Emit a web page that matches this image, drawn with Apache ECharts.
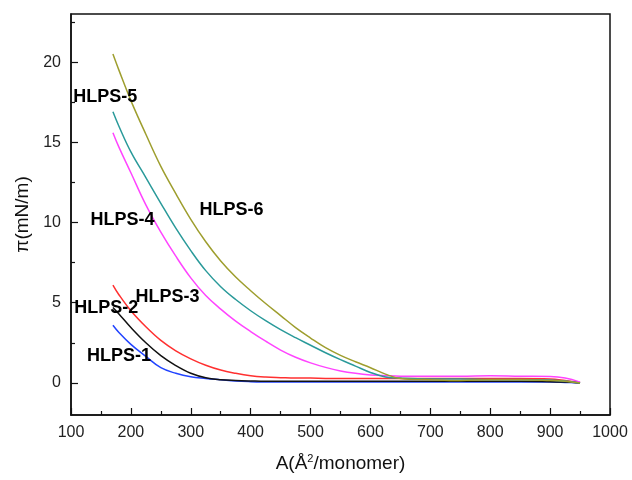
<!DOCTYPE html>
<html>
<head>
<meta charset="utf-8">
<script src="https://cdn.jsdelivr.net/npm/echarts@6/dist/echarts.min.js"></script>
<style>
html,body{margin:0;padding:0;background:#fff;}
#chart{width:632px;height:480px;}
</style>
</head>
<body>
<div id="chart"></div>
<script>
// Area per monomer (Å²)
const areaA = [170,180,200,225,250,275,300,325,350,375,400,425,450,475,500,525,550,575,600,625,650,700,750,800,850,900,925,950];
// Surface pressure (mN/m)
const hlps1 = [3.6,3.15,2.4,1.65,0.95,0.6,0.38,0.28,0.2,0.12,0.08,0.06,0.05,0.05,0.05,0.05,0.05,0.05,0.05,0.05,0.05,0.05,0.05,0.05,0.05,0.05,0.03,0.0];
const hlps2 = [4.7,4.3,3.45,2.5,1.7,1.08,0.6,0.32,0.2,0.15,0.12,0.1,0.1,0.1,0.1,0.1,0.1,0.1,0.1,0.1,0.1,0.1,0.1,0.1,0.1,0.08,0.05,0.0];
const hlps3 = [6.1,5.5,4.5,3.5,2.65,2.0,1.5,1.1,0.8,0.6,0.45,0.37,0.33,0.3,0.3,0.28,0.28,0.28,0.28,0.28,0.28,0.28,0.28,0.28,0.28,0.25,0.15,0.02];
const hlps4 = [15.6,14.7,13.1,11.1,9.4,7.9,6.55,5.45,4.6,3.85,3.2,2.6,2.05,1.6,1.25,0.97,0.75,0.6,0.5,0.45,0.42,0.42,0.42,0.45,0.42,0.4,0.3,0.05];
const hlps5 = [16.9,16.0,14.4,12.8,11.2,9.65,8.25,7.0,6.0,5.2,4.5,3.88,3.32,2.82,2.35,1.88,1.45,1.05,0.65,0.37,0.3,0.25,0.25,0.22,0.22,0.18,0.12,0.0];
const hlps6 = [20.5,19.5,17.6,15.5,13.5,11.8,10.2,8.8,7.6,6.6,5.75,4.95,4.2,3.45,2.8,2.2,1.72,1.32,0.95,0.55,0.28,0.2,0.15,0.2,0.2,0.15,0.1,0.0];
const seriesNames = ['HLPS-1','HLPS-2','HLPS-3','HLPS-4','HLPS-5','HLPS-6'];
const seriesColors = ['#2244ff','#111111','#ff3030','#ff44ff','#2a9a9a','#9e9e2e'];
// Annotation anchors (data coordinates)
const labelA  = [180, 159, 261, 186, 157, 368];
const labelPi = [1.67, 4.66, 5.35, 10.15, 17.8, 10.77];
// Axis ticks
const yMajor = [0,5,10,15,20];
const yMinor = [2.5,7.5,12.5,17.5,22.5];

const allY = [hlps1,hlps2,hlps3,hlps4,hlps5,hlps6];
const series = allY.map((ys,i)=>({
  name: seriesNames[i],
  type: 'line',
  showSymbol: false,
  smooth: 0.4,
  lineStyle: {color: seriesColors[i], width: 1.5},
  itemStyle: {color: seriesColors[i]},
  data: areaA.map((a,j)=>[a, ys[j]]),
  z: 2
}));
series.push({
  type: 'scatter',
  symbolSize: 0.1,
  itemStyle: {color: '#000', opacity: 1},
  data: labelA.map((a,i)=>({value:[a,labelPi[i]], name: seriesNames[i]})),
  label: {
    show: true, position: 'inside', formatter: p => p.name,
    color: '#000', opacity: 1, textBorderWidth: 0, fontFamily: 'Liberation Sans, Arial', fontWeight: 'bold', fontSize: 18
  },
  labelLayout: {hideOverlap: false},
  z: 5,
  silent: true
});

const chart = echarts.init(document.getElementById('chart'));
chart.setOption({
  animation: false,
  backgroundColor: '#fff',
  grid: {left: 71, right: 22, top: 14, bottom: 65, show: true, borderColor: '#111', borderWidth: 1.5, backgroundColor: 'transparent'},
  xAxis: {
    type: 'value', min: 100, max: 1000, interval: 100,
    name: '{a|A(Å}{s|2}{a|/monomer)}', nameLocation: 'middle', nameGap: 38,
    nameTextStyle: {rich: {
      a: {fontFamily: 'Liberation Sans, Arial', fontSize: 19, color: '#111'},
      s: {fontFamily: 'Liberation Sans, Arial', fontSize: 11, color: '#111', verticalAlign: 'top', padding: [0,0,10,0]}
    }},
    axisLine: {onZero: false, lineStyle: {color: '#111', width: 1.5}},
    axisTick: {inside: true, length: 7, lineStyle: {color: '#111', width: 1.2}},
    minorTick: {show: true, splitNumber: 2, length: 4, lineStyle: {color: '#111', width: 1.2}},
    axisLabel: {fontFamily: 'Liberation Sans, Arial', fontSize: 16, color: '#222', margin: 10, formatter: v => String(v)},
    splitLine: {show: false}
  },
  yAxis: [{
    type: 'value', min: -2, max: 23,
    name: 'π(mN/m)', nameLocation: 'middle', nameGap: 37,
    nameTextStyle: {fontFamily: 'Liberation Sans, Arial', fontSize: 19, color: '#111'},
    axisLine: {onZero: false, lineStyle: {color: '#111', width: 1.5}},
    axisTick: {inside: true, length: 7, customValues: yMajor, lineStyle: {color: '#111', width: 1.2}},
    axisLabel: {customValues: yMajor, fontFamily: 'Liberation Sans, Arial', fontSize: 16, color: '#222', margin: 10},
    splitLine: {show: false}
  },{
    type: 'value', min: -2, max: 23, position: 'left',
    axisLine: {show: false},
    axisTick: {show: true, inside: true, length: 4, customValues: yMinor, lineStyle: {color: '#111', width: 1.2}},
    axisLabel: {show: false},
    splitLine: {show: false}
  }],
  series: series
});
</script>
</body>
</html>
